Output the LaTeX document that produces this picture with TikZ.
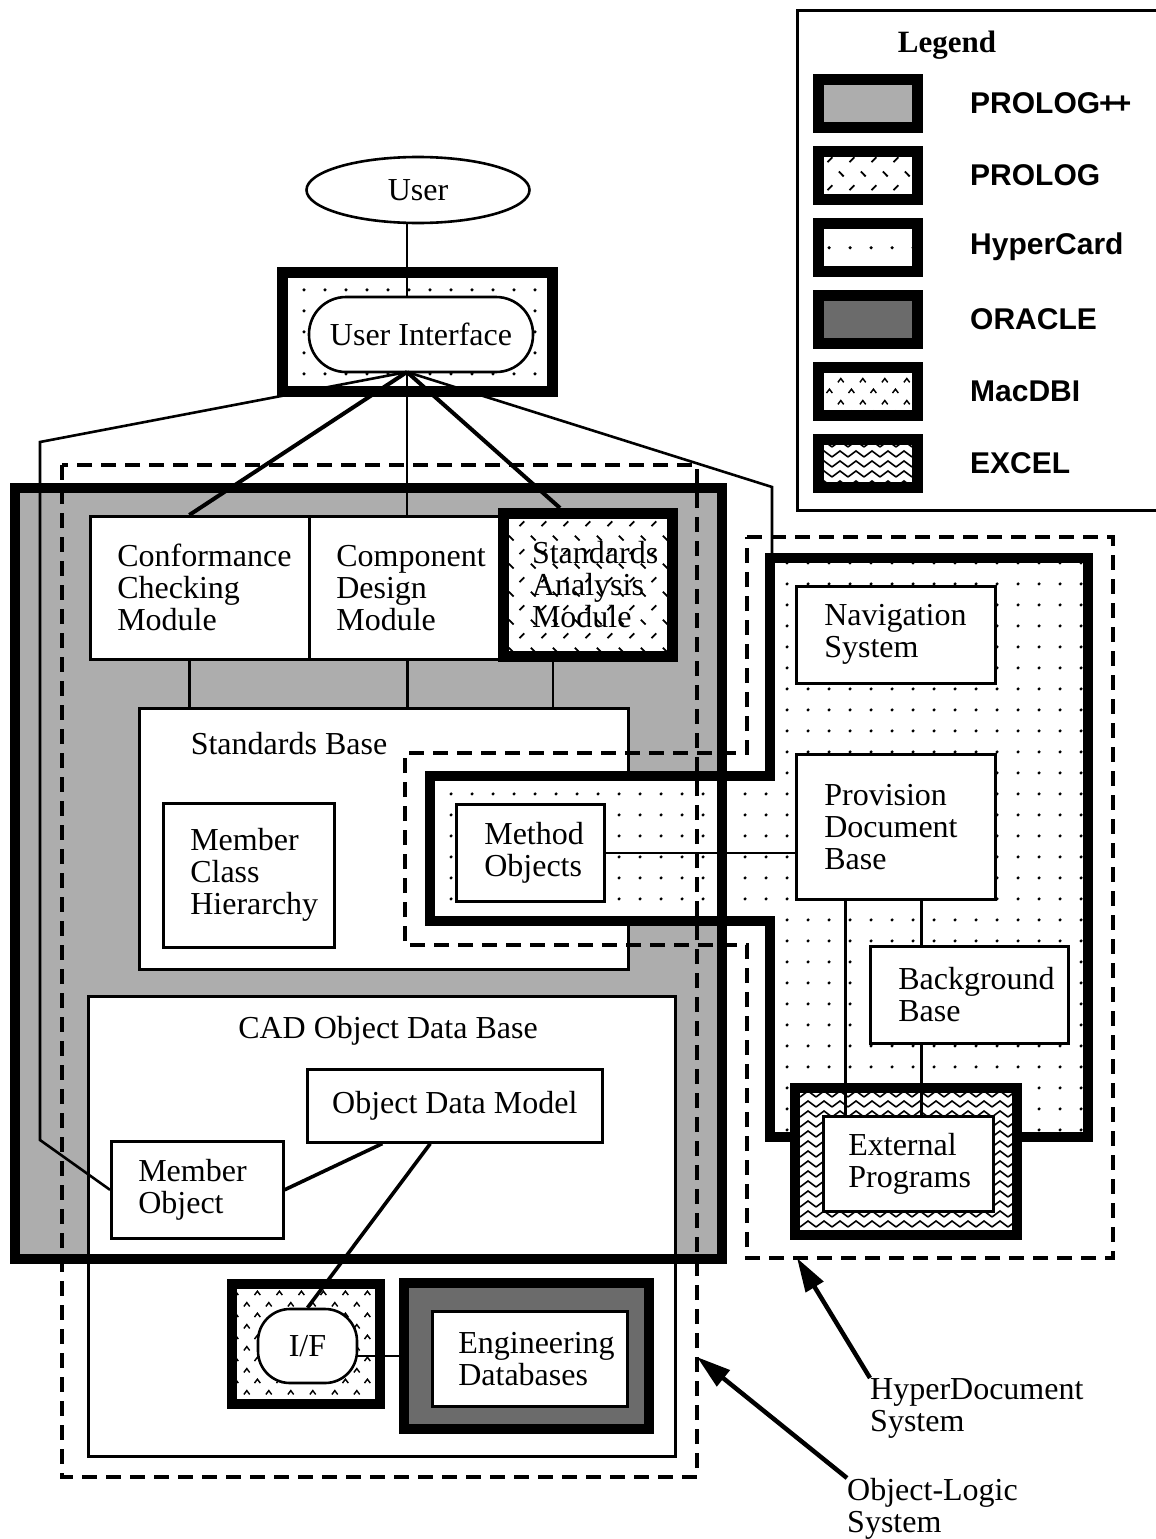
\documentclass[tikz,border=0pt]{standalone}
\usepackage{fontspec}
\setmainfont{Liberation Serif}
\newfontfamily\legendsans{Liberation Sans}
\usetikzlibrary{patterns,shapes.geometric,arrows.meta,calc}
\hyphenpenalty=10000
\exhyphenpenalty=10000

% HyperCard: sparse dots
\pgfdeclarepatternformonly{hcdots}{\pgfpoint{0pt}{0pt}}{\pgfpoint{21pt}{21pt}}{\pgfpoint{21pt}{21pt}}{%
  \pgfpathcircle{\pgfpoint{10.5pt}{10.5pt}}{1.8pt}%
  \pgfusepath{fill}%
}
% PROLOG: alternating short ticks
\pgfdeclarepatternformonly{prologticks}{\pgfpoint{0pt}{0pt}}{\pgfpoint{22pt}{28pt}}{\pgfpoint{22pt}{28pt}}{%
  \pgfsetlinewidth{1.9pt}%
  \pgfpathmoveto{\pgfpoint{3pt}{24pt}}\pgfpathlineto{\pgfpoint{8pt}{19pt}}%
  \pgfpathmoveto{\pgfpoint{14pt}{5pt}}\pgfpathlineto{\pgfpoint{19pt}{10pt}}%
  \pgfusepath{stroke}%
}
% MacDBI: small carets
\pgfdeclarepatternformonly{carets}{\pgfpoint{0pt}{0pt}}{\pgfpoint{22pt}{22pt}}{\pgfpoint{22pt}{22pt}}{%
  \pgfsetlinewidth{1.5pt}%
  \pgfpathmoveto{\pgfpoint{2pt}{13pt}}\pgfpathlineto{\pgfpoint{5pt}{17pt}}\pgfpathlineto{\pgfpoint{8pt}{13pt}}%
  \pgfpathmoveto{\pgfpoint{13pt}{2pt}}\pgfpathlineto{\pgfpoint{16pt}{6pt}}\pgfpathlineto{\pgfpoint{19pt}{2pt}}%
  \pgfusepath{stroke}%
}
% EXCEL: zigzag waves
\pgfdeclarepatternformonly{waves}{\pgfpoint{-1pt}{-1pt}}{\pgfpoint{17pt}{11pt}}{\pgfpoint{16pt}{10pt}}{%
  \pgfsetlinewidth{1.6pt}%
  \pgfpathmoveto{\pgfpoint{0pt}{2pt}}\pgfpathlineto{\pgfpoint{8pt}{8pt}}\pgfpathlineto{\pgfpoint{16pt}{2pt}}%
  \pgfusepath{stroke}%
}

\colorlet{prologpp}{black!32}
\colorlet{oracle}{black!58}

\begin{document}
\begin{tikzpicture}[x=1pt, y=-1pt,
  every node/.style={font=\fontsize{32}{32}\selectfont},
  thinline/.style={line width=2.6pt},
  fanline/.style={line width=4pt},
  box/.style={draw, line width=2.6pt, fill=white, anchor=north west, align=left, inner ysep=0pt},
  frame/.style={draw, line width=10pt, inner sep=0pt},
  hyper/.style={preaction={fill=white}, pattern=hcdots},
  prolog/.style={preaction={fill=white}, pattern=prologticks},
  macdbi/.style={preaction={fill=white}, pattern=carets},
  excel/.style={preaction={fill=white}, pattern=waves},
  sysbound/.style={line width=3.2pt, dash pattern=on 15pt off 9pt},
  swatch/.style={draw, line width=11pt, minimum width=99pt, minimum height=48pt, inner sep=0pt},
  legendlabel/.style={anchor=west, inner sep=0pt, font=\legendsans\bfseries\fontsize{30}{30}\selectfont},
  pointer/.style={line width=4.5pt, -{Triangle[length=34pt,width=20pt]}}
]
\useasboundingbox (0,0) rectangle (1156,1539);

% ---------------- legend ----------------
\node[draw, line width=2.6pt, anchor=north west, minimum width=366pt, minimum height=500pt, inner sep=0pt] (legendbox) at (796,9) {};
\node[font=\bfseries\fontsize{31}{31}\selectfont] (legendtitle) at (947,45) {Legend};
\node[swatch, fill=prologpp] (sw1) at (868,103) {};
\node[swatch, prolog] (sw2) at (868,175) {};
\node[swatch, hyper] (sw3) at (868,247) {};
\node[swatch, fill=oracle] (sw4) at (868,319) {};
\node[swatch, macdbi] (sw5) at (868,391) {};
\node[swatch, excel] (sw6) at (868,463) {};
\node[legendlabel] (lab1) at (970,103) {PROLOG\kern-1pt+\kern-3pt+};
\node[legendlabel] (lab2) at (970,175) {PROLOG};
\node[legendlabel] (lab3) at (970,247) {HyperCard};
\node[legendlabel] (lab4) at (970,319) {ORACLE};
\node[legendlabel] (lab5) at (970,391) {MacDBI};
\node[legendlabel] (lab6) at (970,463) {EXCEL};

% ---------------- PROLOG++ core (fill only) ----------------
\node[fill=prologpp, minimum width=707pt, minimum height=771pt, inner sep=0pt, outer sep=0pt] (ppframe) at (368.5,873.5) {};

% modules
\node[box, minimum width=219pt, minimum height=143pt, inner xsep=27pt, text width=165pt] (conf) at (89,515) {Conformance\\Checking\\Module};
\node[box, minimum width=190pt, minimum height=143pt, inner xsep=27pt, text width=136pt] (comp) at (308,515) {Component\\Design\\Module};
\node[draw, line width=11pt, prolog, minimum width=169pt, minimum height=143pt, inner xsep=28.5pt, inner ysep=0pt, text width=112pt, align=left] (sa) at (588,585) {Standards\\Analysis\\Module};

% standards base
\node[box, minimum width=489pt, minimum height=261pt] (stdbase) at (138,707) {};
\node (stdbasetitle) at (289,744) {Standards Base};
\node[box, minimum width=171pt, minimum height=144pt, inner xsep=27pt, text width=117pt] (mch) at (162,802) {Member\\Class\\Hierarchy};

% CAD object data base
\node[box, minimum width=587pt, minimum height=460pt] (cad) at (87,995) {};
\node (cadtitle) at (388,1031) {CAD Object Data Base};
\node[box, align=center, minimum width=295pt, minimum height=73pt] (odm) at (306,1068) {Object Data Model};
\node[box, minimum width=172pt, minimum height=97pt, inner xsep=27pt, text width=118pt] (mobj) at (110,1140) {Member\\Object};

% ---------------- HyperCard region ----------------
\draw[line width=10pt, hyper] (770,558) -- (1088,558) -- (1088,1137) -- (770,1137) -- (770,921) -- (430,921) -- (430,776) -- (770,776) -- cycle;
\node[box, minimum width=148pt, minimum height=97pt, inner xsep=28pt, text width=92pt] (mo) at (455,803) {Method\\Objects};
\node[box, minimum width=199pt, minimum height=97pt, inner xsep=28pt, text width=143pt] (nav) at (795,585) {Navigation\\System};
\node[box, minimum width=199pt, minimum height=145pt, inner xsep=28pt, text width=143pt] (pdb) at (795,753) {Provision\\Document\\Base};
\node[box, minimum width=198pt, minimum height=97pt, inner xsep=28pt, text width=142pt] (bg) at (869,945) {Background\\Base};

% PROLOG++ core border
\draw[line width=10pt] (ppframe.north west) rectangle (ppframe.south east);

% ---------------- interface and databases ----------------
\node[frame, macdbi, minimum width=148pt, minimum height=120pt] (iffr) at (306,1344) {};
\node[draw, line width=2.6pt, fill=white, rounded corners=32pt, minimum width=99pt, minimum height=74pt, inner sep=0pt] (ifnode) at (307.5,1346) {I/F};
\node[frame, fill=oracle, minimum width=245pt, minimum height=146pt] (engfr) at (526.5,1356) {};
\node[box, minimum width=195pt, minimum height=95pt, inner xsep=26pt, text width=143pt] (engdb) at (431,1310) {Engineering\\Databases};
\node[frame, excel, minimum width=222pt, minimum height=147pt] (epfr) at (906,1161.5) {};
\node[box, minimum width=170pt, minimum height=95pt, inner xsep=25pt, text width=120pt] (epin) at (822,1115) {External\\Programs};

% ---------------- user and user interface ----------------
\node[draw, ellipse, line width=2.6pt, fill=white, minimum width=223pt, minimum height=66pt, inner sep=0pt] (user) at (418,190) {User};
\node[draw, line width=11pt, hyper, minimum width=270pt, minimum height=119pt, inner sep=0pt] (uiframe) at (417.5,332) {};
\node[draw, line width=2.6pt, fill=white, rounded corners=37pt, minimum width=224pt, minimum height=75pt, inner sep=0pt] (ui) at (421,334.5) {User Interface};

% ---------------- connectors ----------------
\coordinate (hub) at (407,372);
\coordinate (lbendtop) at (40,442);
\coordinate (lbendlow) at (40,1140);
\coordinate (rbend) at (772,487);
\coordinate (rtop) at (772,553);

\draw[thinline] (user.south -| hub) -- (ui.north -| hub);
\draw[thinline] (hub) -- (lbendtop) -- (lbendlow) -- (mobj.west);
\draw[fanline] (hub) -- ($(conf.north)+(-10.5,0)$);
\draw[thinline] (hub) -- (hub |- comp.north);
\draw[fanline] (hub) -- ($(sa.north)+(-28,0)$);
\draw[thinline] (hub) -- (rbend) -- (rtop);

\draw[thinline] ($(conf.south)+(-10.5,0)$) coordinate (cdown) -- (cdown |- stdbase.north);
\draw[thinline] ($(comp.south)+(3,0)$) coordinate (pdown) -- (pdown |- stdbase.north);
\draw[thinline] ($(sa.south)+(-35,0)$) coordinate (sdown) -- (sdown |- stdbase.north);

\draw[thinline] (mo.east) -- (mo.east -| pdb.west);
\draw[thinline] ($(pdb.south)+(-50.5,0)$) coordinate (pleft) -- (pleft |- epin.north);
\draw[thinline] ($(pdb.south)+(25.5,0)$) coordinate (pright) -- (pright |- bg.north);
\draw[thinline] (pright |- bg.south) -- (pright |- epin.north);

\draw[line width=3.6pt] (mobj.east) -- ($(odm.south)+(-72.5,0)$);
\draw[line width=3.6pt] ($(odm.south)+(-24.5,0)$) -- (ifnode.north);
\draw[thinline] (ifnode.east |- engfr.west) -- (engfr.west);

% ---------------- system boundaries ----------------
\draw[sysbound] (62,465) rectangle (697,1477);
\draw[sysbound] (747,537) -- (1113,537) -- (1113,1258) -- (747,1258) -- (747,945) -- (405,945) -- (405,753) -- (747,753) -- cycle;

% ---------------- boundary labels ----------------
\coordinate (hdtip) at (797,1258);
\coordinate (oltip) at (697,1357);
\node[anchor=north west, align=left, inner sep=0pt] (hdlabel) at (870,1378) {HyperDocument\\System};
\node[anchor=north west, align=left, inner sep=0pt] (ollabel) at (847,1478) {Object-Logic\\System};
\draw[pointer] (hdlabel.north west) -- (hdtip);
\draw[pointer] (ollabel.north west) -- (oltip);
\end{tikzpicture}
\end{document}
